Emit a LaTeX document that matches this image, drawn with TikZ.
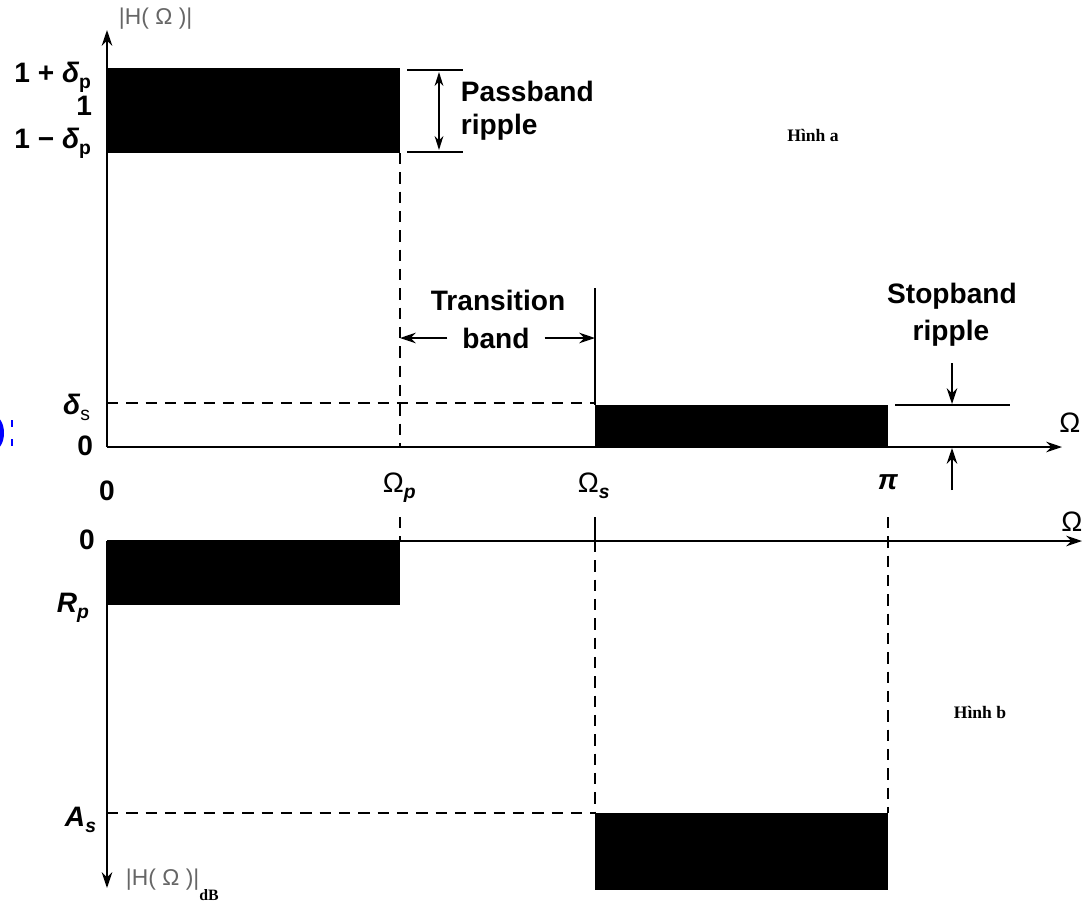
\documentclass[tikz,border=0pt]{standalone}
\usepackage{fontspec}
\setmainfont{Liberation Sans}
\newfontfamily\serifb{Liberation Serif}
\usetikzlibrary{arrows.meta}
\newcommand\lsub[1]{\raisebox{-0.45ex}{\fontsize{11}{11}\selectfont #1}}
\begin{document}
\begin{tikzpicture}[x=0.02cm,y=-0.02cm,
  line width=1.1pt,
  lbl/.style={inner sep=0pt, font=\fontsize{16}{18}\selectfont\bfseries},
  glbl/.style={inner sep=0pt, text=black!60, font=\fontsize{13}{15}\selectfont},
  hinh/.style={inner sep=0pt, font=\serifb\fontsize{10}{12}\selectfont\bfseries},
  dashln/.style={dash pattern=on 6.5pt off 4.5pt},
  tip/.style={-{Stealth[length=9pt,width=6pt]}},
  tips/.style={{Stealth[length=8pt,width=5pt]}-{Stealth[length=8pt,width=5pt]}},
  band/.style={fill=black, draw=none}]
\useasboundingbox (0,0) rectangle (1090,910);

% blue fragment at the left edge
\begin{scope}
  \clip (0,0) rectangle (1090,910);
  \fill[blue] (-6,433) ellipse [x radius=10, y radius=17];
  \draw[blue, line width=0.8pt] (12,420) -- (12,427) (12,439) -- (12,446);
\end{scope}

% ---------------- Figure a ----------------
\coordinate (O1) at (107,447);
\coordinate (Y1) at (107,30);
\coordinate (X1) at (1062,447);
\fill[band] (107,68) rectangle (400,153);
\fill[band] (595,405) rectangle (888,447);
\draw[tip] (O1) -- (Y1);
\draw[tip] (O1) -- (X1);
\draw[dashln] (107,403) -- (595,403);
\draw[dashln] (400,153) -- (400,447);
\draw (595,288) -- (595,405);

% passband ripple
\coordinate (pr1) at (439,72);
\coordinate (pr2) at (439,150);
\draw (407,70) -- (463,70);
\draw (407,152) -- (463,152);
\draw[tips] (pr1) -- (pr2);
\node[lbl, anchor=west] (pb1) at (460,91) {Passband};
\node[lbl, anchor=west] (pb2) at (460,127) {ripple};

% transition band
\node[lbl] (tb1) at (498,300) {Transition};
\node[lbl] (tb2) at (496,338) {band};
\coordinate (tl) at (400,338);
\coordinate (tr) at (595,338);
\draw[tip] (tb2.west) ++(-14,0) -- (tl);
\draw[tip] (tb2.east) ++(14,0) -- (tr);

% stopband ripple
\node[lbl] (sb1) at (952,296) {Stopband};
\node[lbl] (sb2) at (951,333) {ripple};
\coordinate (sa1) at (952,404);
\coordinate (sa2) at (952,448);
\draw (895,405) -- (1010,405);
\draw[tip] (952,363) -- (sa1);
\draw[tip] (952,490) -- (sa2);

% labels a
\node[glbl, anchor=west] (H1) at (118,19) {|H( Ω )|};
\node[lbl, anchor=base east] (l1p) at (92,82) {1 + \textit{δ}\lsub{p}};
\node[lbl, anchor=base east] (l1) at (93,115) {1};
\node[lbl, anchor=base east] (l1m) at (92,148) {1 − \textit{δ}\lsub{p}};
\node[lbl, anchor=base east] (lds) at (91,414) {\textit{δ}\lsub{\textmd{s}}};
\node[lbl, anchor=base east] (l0a) at (94,455) {0};
\node[lbl] (l0b) at (107,491) {0};
\node[lbl, anchor=base west, font=\fontsize{16}{18}\selectfont] (lOp) at (382,492) {Ω\lsub{\bfseries\itshape p}};
\node[lbl, anchor=base west, font=\fontsize{16}{18}\selectfont] (lOs) at (577,492) {Ω\lsub{\bfseries\itshape s}};
\node[lbl] (lpi) at (888,482) {\textit{π}};
\node[inner sep=0pt, font=\fontsize{16}{18}\selectfont] (lOm1) at (1070,423) {Ω};
\node[hinh] (ha) at (813,135) {Hình a};

% ---------------- Figure b ----------------
\coordinate (O2) at (107,541);
\coordinate (X2) at (1082,541);
\coordinate (Y2) at (107,888);
\fill[band] (107,541) rectangle (400,605);
\fill[band] (595,813) rectangle (888,890);
\draw[tip] (O2) -- (X2);
\draw[tip] (O2) -- (Y2);
\draw[dashln] (107,813) -- (595,813);
\draw[dashln] (400,517) -- (400,541);
\draw (595,517) -- (595,541);
\draw[dashln] (595,541) -- (595,813);
\draw[dashln] (888,517) -- (888,813);

\node[lbl] (l0c) at (87,540) {0};
\node[lbl, anchor=base east] (lRp) at (90,612) {\textit{R}\lsub{\itshape p}};
\node[lbl, anchor=base east] (lAs) at (97,826) {\textit{A}\lsub{\itshape s}};
\node[inner sep=0pt, font=\fontsize{16}{18}\selectfont] (lOm2) at (1072,522) {Ω};
\node[glbl, anchor=west] (H2) at (125,885) {|H( Ω )|\raisebox{-1.2ex}{\serifb\bfseries\fontsize{9}{9}\selectfont\color{black} dB}};
\node[hinh] (hb) at (980,712) {Hình b};
\end{tikzpicture}
\end{document}
